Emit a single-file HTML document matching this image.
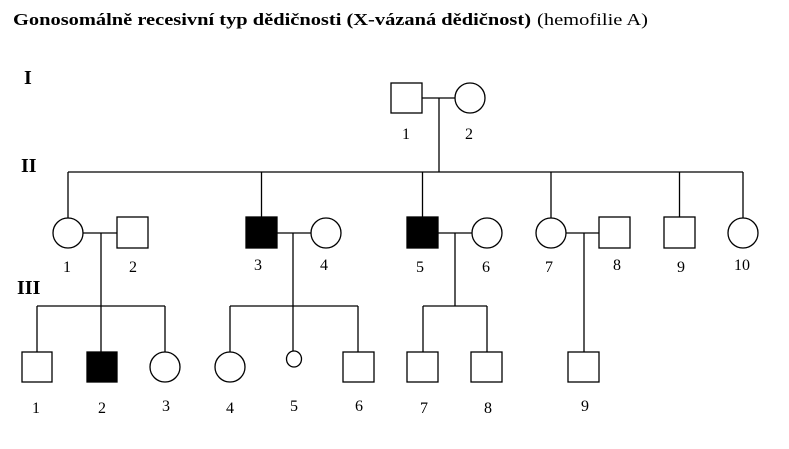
<!DOCTYPE html>
<html><head><meta charset="utf-8"><style>html,body{margin:0;padding:0;background:#fff}svg{display:block}</style></head>
<body>
<svg width="789" height="449" xmlns="http://www.w3.org/2000/svg" font-family="Liberation Serif, serif">
<rect width="789" height="449" fill="#fff"/>
<text x="13" y="25" font-size="17" font-weight="bold" textLength="518" lengthAdjust="spacingAndGlyphs">Gonosomálně recesivní typ dědičnosti (X-vázaná dědičnost)</text>
<text x="537" y="25" font-size="17" textLength="111" lengthAdjust="spacingAndGlyphs">(hemofilie A)</text>
<g font-weight="bold" font-size="20">
<text x="24" y="84">I</text>
<text x="21" y="172">II</text>
<text x="17" y="294">III</text>
</g>
<g stroke="#000" stroke-width="1.3" fill="none">
<!-- Gen I -->
<rect x="391" y="83" width="31" height="30" fill="#fff"/>
<circle cx="470" cy="98" r="15" fill="#fff"/>
<line x1="422" y1="98" x2="455" y2="98"/>
<line x1="439" y1="98" x2="439" y2="172"/>
<line x1="68" y1="172" x2="743" y2="172"/>
<!-- Gen II drops -->
<line x1="68" y1="172" x2="68" y2="218"/>
<line x1="261.5" y1="172" x2="261.5" y2="217"/>
<line x1="422.5" y1="172" x2="422.5" y2="217"/>
<line x1="551" y1="172" x2="551" y2="218"/>
<line x1="679.5" y1="172" x2="679.5" y2="217"/>
<line x1="743" y1="172" x2="743" y2="218"/>
<!-- Gen II -->
<circle cx="68" cy="233" r="15" fill="#fff"/>
<rect x="117" y="217" width="31" height="31" fill="#fff"/>
<line x1="83" y1="233" x2="117" y2="233"/>
<rect x="246" y="217" width="31" height="31" fill="#000"/>
<circle cx="326" cy="233" r="15" fill="#fff"/>
<line x1="277" y1="233" x2="311" y2="233"/>
<rect x="407" y="217" width="31" height="31" fill="#000"/>
<circle cx="487" cy="233" r="15" fill="#fff"/>
<line x1="438" y1="233" x2="472" y2="233"/>
<circle cx="551" cy="233" r="15" fill="#fff"/>
<rect x="599" y="217" width="31" height="31" fill="#fff"/>
<line x1="566" y1="233" x2="599" y2="233"/>
<rect x="664" y="217" width="31" height="31" fill="#fff"/>
<circle cx="743" cy="233" r="15" fill="#fff"/>
<!-- Gen III connectors -->
<line x1="101" y1="233" x2="101" y2="352"/>
<line x1="37" y1="306" x2="165" y2="306"/>
<line x1="37" y1="306" x2="37" y2="352"/>
<line x1="165" y1="306" x2="165" y2="352"/>
<line x1="293" y1="233" x2="293" y2="352"/>
<line x1="230" y1="306" x2="358" y2="306"/>
<line x1="230" y1="306" x2="230" y2="352"/>
<line x1="358" y1="306" x2="358" y2="352"/>
<line x1="455" y1="233" x2="455" y2="306"/>
<line x1="423" y1="306" x2="487" y2="306"/>
<line x1="423" y1="306" x2="423" y2="352"/>
<line x1="487" y1="306" x2="487" y2="352"/>
<line x1="584" y1="233" x2="584" y2="352"/>
<!-- Gen III -->
<rect x="22" y="352" width="30" height="30" fill="#fff"/>
<rect x="87" y="352" width="30" height="30" fill="#000"/>
<ellipse cx="165" cy="367" rx="15" ry="15" fill="#fff"/>
<ellipse cx="230" cy="367" rx="15" ry="15" fill="#fff"/>
<ellipse cx="294" cy="359" rx="7.5" ry="8" fill="#fff"/>
<rect x="343" y="352" width="31" height="30" fill="#fff"/>
<rect x="407" y="352" width="31" height="30" fill="#fff"/>
<rect x="471" y="352" width="31" height="30" fill="#fff"/>
<rect x="568" y="352" width="31" height="30" fill="#fff"/>
</g>
<g font-size="16" text-anchor="middle">
<text x="406" y="139">1</text><text x="469" y="139">2</text>
<text x="67" y="272">1</text><text x="133" y="272">2</text>
<text x="258" y="270">3</text><text x="324" y="270">4</text>
<text x="420" y="272">5</text><text x="486" y="272">6</text>
<text x="549" y="272">7</text><text x="617" y="270">8</text>
<text x="681" y="272">9</text><text x="742" y="270">10</text>
<text x="36" y="413">1</text><text x="102" y="413">2</text>
<text x="166" y="411">3</text><text x="230" y="413">4</text>
<text x="294" y="411">5</text><text x="359" y="411">6</text>
<text x="424" y="413">7</text><text x="488" y="413">8</text>
<text x="585" y="411">9</text>
</g>
</svg>
</body></html>
